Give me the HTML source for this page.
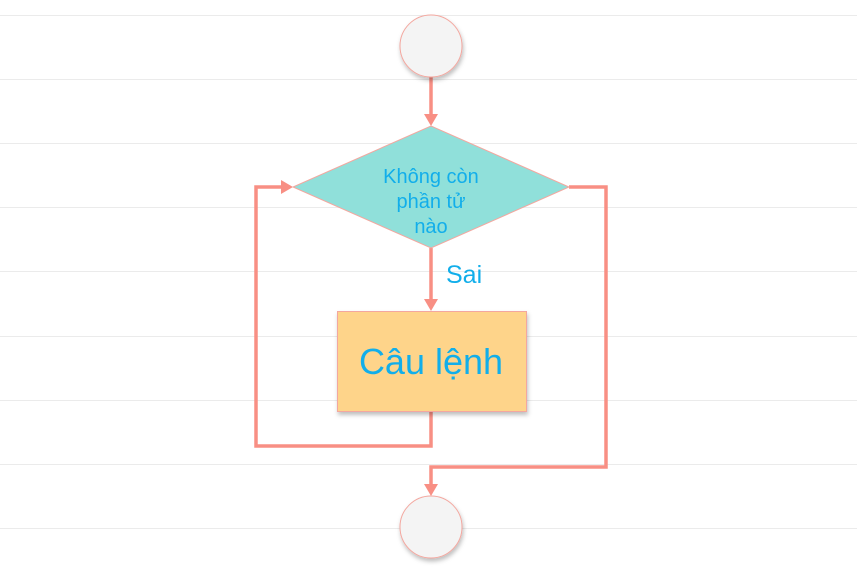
<!DOCTYPE html>
<html><head><meta charset="utf-8"><style>
html,body{margin:0;padding:0;background:#fff;}
svg{display:block;}
text{font-family:"Liberation Sans",Arial,sans-serif;fill:#12aeea;}
</style></head><body>
<svg width="857" height="573" viewBox="0 0 857 573" xmlns="http://www.w3.org/2000/svg">
<defs>
<filter id="sh" x="-30%" y="-30%" width="160%" height="160%"><feDropShadow dx="1" dy="3" stdDeviation="2" flood-color="#000" flood-opacity="0.25"/></filter>
</defs>
<g stroke="#ebebeb" stroke-width="1">
<line x1="0" y1="15.5" x2="857" y2="15.5"/>
<line x1="0" y1="79.5" x2="857" y2="79.5"/>
<line x1="0" y1="143.5" x2="857" y2="143.5"/>
<line x1="0" y1="207.5" x2="857" y2="207.5"/>
<line x1="0" y1="271.5" x2="857" y2="271.5"/>
<line x1="0" y1="336.5" x2="857" y2="336.5"/>
<line x1="0" y1="400.5" x2="857" y2="400.5"/>
<line x1="0" y1="464.5" x2="857" y2="464.5"/>
<line x1="0" y1="528.5" x2="857" y2="528.5"/>
</g>
<g stroke="#f88f84" stroke-width="3.5" fill="none">
<line x1="431" y1="77" x2="431" y2="115"/>
<line x1="431" y1="248" x2="431" y2="300"/>
<polyline points="431,411 431,446 256,446 256,187 282,187"/>
<polyline points="569,187 606,187 606,467 431,467 431,485"/>
</g>
<g fill="#f88f84">
<polygon points="424,114 438,114 431,126"/>
<polygon points="424,299 438,299 431,311"/>
<polygon points="281,180 281,194 293,187"/>
<polygon points="424,484 438,484 431,496"/>
</g>
<circle cx="431" cy="46" r="31" fill="#f4f4f4" stroke="#f3a79f" stroke-width="1" filter="url(#sh)"/>
<circle cx="431" cy="527" r="31" fill="#f4f4f4" stroke="#f3a79f" stroke-width="1" filter="url(#sh)"/>
<polygon points="431,126 569,187 431,248 293,187" fill="#90e0da" stroke="#f3a79f" stroke-width="1"/>
<text x="431" y="183" font-size="20" text-anchor="middle">Không còn</text>
<text x="431" y="208" font-size="20" text-anchor="middle">phần tử</text>
<text x="431" y="233" font-size="20" text-anchor="middle">nào</text>
<text x="446" y="283" font-size="25">Sai</text>
<rect x="337.5" y="311.5" width="189" height="100" fill="#fed48a" stroke="#f3a79f" stroke-width="1" filter="url(#sh)"/>
<text x="431" y="374" font-size="36" text-anchor="middle">Câu lệnh</text>
</svg>
</body></html>
